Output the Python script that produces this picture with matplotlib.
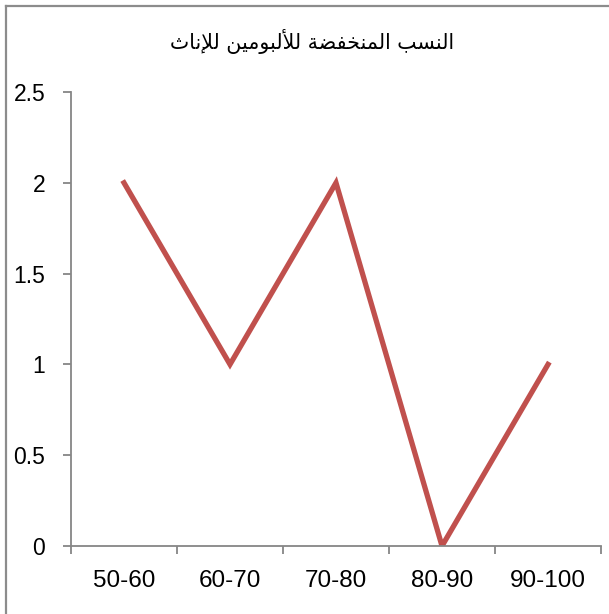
import matplotlib
matplotlib.use('Agg')
import matplotlib.pyplot as plt
from matplotlib.lines import Line2D

# chart data
categories = ['50-60', '60-70', '70-80', '80-90', '90-100']
values = [2, 1, 2, 0, 1]
title = 'النسب المنخفضة للألبومين للإناث'

# Arabic presentation forms: (isolated, final, initial, medial); None = no joining to the next letter
FORMS = {
    'ا': ('\uFE8D', '\uFE8E', None, None),
    'أ': ('\uFE83', '\uFE84', None, None),
    'إ': ('\uFE87', '\uFE88', None, None),
    'ة': ('\uFE93', '\uFE94', None, None),
    'و': ('\uFEED', '\uFEEE', None, None),
    'ل': ('\uFEDD', '\uFEDE', '\uFEDF', '\uFEE0'),
    'ن': ('\uFEE5', '\uFEE6', '\uFEE7', '\uFEE8'),
    'س': ('\uFEB1', '\uFEB2', '\uFEB3', '\uFEB4'),
    'ب': ('\uFE8F', '\uFE90', '\uFE91', '\uFE92'),
    'م': ('\uFEE1', '\uFEE2', '\uFEE3', '\uFEE4'),
    'خ': ('\uFEA5', '\uFEA6', '\uFEA7', '\uFEA8'),
    'ف': ('\uFED1', '\uFED2', '\uFED3', '\uFED4'),
    'ض': ('\uFEBD', '\uFEBE', '\uFEBF', '\uFEC0'),
    'ي': ('\uFEF1', '\uFEF2', '\uFEF3', '\uFEF4'),
    'ث': ('\uFE99', '\uFE9A', '\uFE9B', '\uFE9C'),
}
LAM_ALEF = {'ا': ('\uFEFB', '\uFEFC'), 'أ': ('\uFEF7', '\uFEF8'), 'إ': ('\uFEF9', '\uFEFA')}


def shape_word(word):
    # merge lam + alef into ligatures first
    chars = []
    i = 0
    while i < len(word):
        if word[i] == 'ل' and i + 1 < len(word) and word[i + 1] in LAM_ALEF:
            chars.append(('LA', word[i + 1]))
            i += 2
        else:
            chars.append(('C', word[i]))
            i += 1

    def joins_next(item):
        kind, c = item
        return kind == 'C' and FORMS[c][2] is not None

    out = []
    for k, item in enumerate(chars):
        prev_joins = k > 0 and joins_next(chars[k - 1])
        kind, c = item
        if kind == 'LA':
            out.append(LAM_ALEF[c][1 if prev_joins else 0])
            continue
        iso, fin, ini, med = FORMS[c]
        next_exists = k + 1 < len(chars)
        if ini is not None and next_exists:
            out.append(med if prev_joins else ini)
        else:
            out.append(fin if prev_joins else iso)
    return ''.join(out)


def rtl(text):
    shaped = ' '.join(shape_word(w) for w in text.split(' '))
    return shaped[::-1]


fig = plt.figure(figsize=(6.09, 6.14), dpi=100)
ax = fig.add_axes([71 / 609, 68 / 614, 530 / 609, 454 / 614])

x = range(len(categories))
ax.plot(x, values, color='#C0504D', linewidth=3.8, solid_joinstyle='miter')

ax.set_xlim(-0.5, len(categories) - 0.5)
ax.set_ylim(0, 2.5)
ax.set_yticks([0, 0.5, 1, 1.5, 2, 2.5])
ax.set_yticklabels(['0', '0.5', '1', '1.5', '2', '2.5'], fontsize=16.5, family='Liberation Sans')

# category labels between boundary ticks
ax.set_xticks([i - 0.5 for i in range(len(categories) + 1)])
ax.set_xticklabels([])
ax.set_xticks(list(x), minor=True)
ax.set_xticklabels(categories, minor=True, fontsize=17.5, family='Liberation Sans')
ax.tick_params(axis='x', which='minor', length=0, pad=17)
ax.tick_params(axis='x', which='major', length=6, width=1.3, color='#868686', direction='out')
ax.tick_params(axis='y', length=6, width=1.3, color='#868686', direction='out', pad=12.5)

for side in ['top', 'right']:
    ax.spines[side].set_visible(False)
for side in ['left', 'bottom']:
    ax.spines[side].set_color('#868686')
    ax.spines[side].set_linewidth(1.3)

fig.text(312 / 609, 1 - 42 / 614, rtl(title), ha='center', va='center',
         fontsize=14.8, family='DejaVu Sans')

# chart area frame
fig.add_artist(Line2D([5.5 / 609, 1], [1 - 5.5 / 614, 1 - 5.5 / 614], color='#8c8c8c', linewidth=1.6))
fig.add_artist(Line2D([5.5 / 609, 5.5 / 609], [0, 1 - 5.5 / 614], color='#8c8c8c', linewidth=1.6))

fig.savefig('out.png', dpi=100)
